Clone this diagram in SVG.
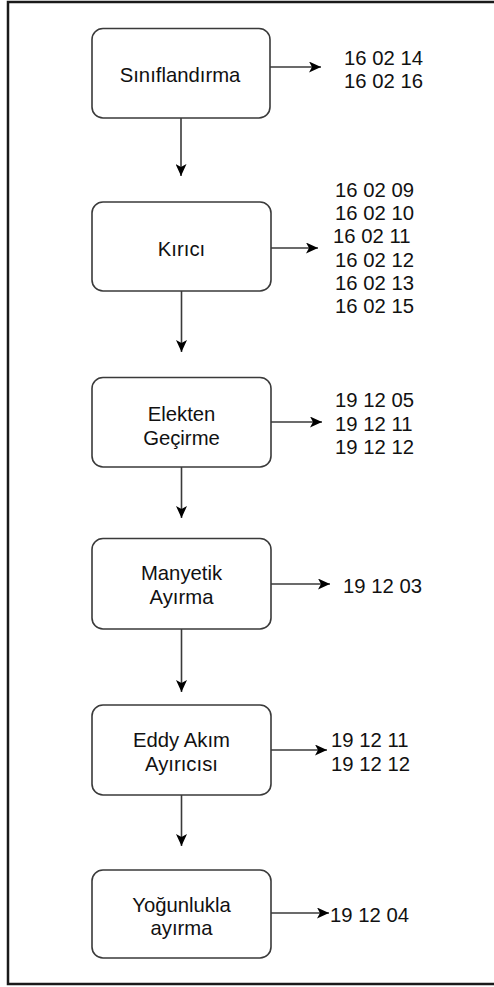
<svg xmlns="http://www.w3.org/2000/svg" width="494" height="987" viewBox="0 0 494 987">
<style>
.box{fill:#fff;stroke:#3a3a3a;stroke-width:1.6}
.t{font-family:"Liberation Sans",Arial,sans-serif;font-size:20.3px;fill:#111}
.c{text-anchor:middle}
.ln{stroke:#3a3a3a;stroke-width:1.6;fill:none}
</style>
<defs>
<marker id="ah" viewBox="0 0 12 11" refX="12" refY="5.5" markerWidth="12" markerHeight="11" markerUnits="userSpaceOnUse" orient="auto">
<path d="M0,0 L12,5.5 L0,11 L3,5.5 z" fill="#000"/>
</marker>
</defs>
<rect width="494" height="987" fill="#fff"/>
<path d="M496,2 H8 V984 H496" fill="none" stroke="#1a1a1a" stroke-width="2.5"/>
<g id="connectors">
<line class="ln" x1="181" y1="118" x2="181" y2="176" marker-end="url(#ah)"/>
<line class="ln" x1="181.5" y1="291" x2="181.5" y2="352" marker-end="url(#ah)"/>
<line class="ln" x1="181.5" y1="467" x2="181.5" y2="518" marker-end="url(#ah)"/>
<line class="ln" x1="181.5" y1="629" x2="181.5" y2="692" marker-end="url(#ah)"/>
<line class="ln" x1="181.5" y1="795" x2="181.5" y2="846" marker-end="url(#ah)"/>
<line class="ln" x1="270" y1="67" x2="321" y2="67" marker-end="url(#ah)"/>
<line class="ln" x1="271" y1="248" x2="318" y2="248" marker-end="url(#ah)"/>
<line class="ln" x1="271" y1="422" x2="322" y2="422" marker-end="url(#ah)"/>
<line class="ln" x1="271" y1="584" x2="330" y2="584" marker-end="url(#ah)"/>
<line class="ln" x1="271" y1="750" x2="327" y2="750" marker-end="url(#ah)"/>
<line class="ln" x1="271" y1="913" x2="329" y2="913" marker-end="url(#ah)"/>
</g>
<g id="n1">
<rect class="box" x="92" y="28.5" width="178" height="89.5" rx="11"/>
<text class="t c" x="180" y="82">Sınıflandırma</text>
</g>
<g id="o1">
<text class="t" x="344" y="65">16 02 14</text>
<text class="t" x="344" y="88">16 02 16</text>
</g>
<g id="n2">
<rect class="box" x="92" y="202" width="179" height="89" rx="11"/>
<text class="t c" x="181.5" y="256">Kırıcı</text>
</g>
<g id="o2">
<text class="t" x="335" y="197">16 02 09</text>
<text class="t" x="335" y="220">16 02 10</text>
<text class="t" x="333" y="243">16 02 11</text>
<text class="t" x="335" y="267">16 02 12</text>
<text class="t" x="335" y="290">16 02 13</text>
<text class="t" x="335" y="313">16 02 15</text>
</g>
<g id="n3">
<rect class="box" x="92" y="377.5" width="179" height="89.5" rx="11"/>
<text class="t c" x="181.5" y="421">Elekten</text>
<text class="t c" x="181.5" y="445">Geçirme</text>
</g>
<g id="o3">
<text class="t" x="335" y="407">19 12 05</text>
<text class="t" x="335" y="431">19 12 11</text>
<text class="t" x="335" y="454">19 12 12</text>
</g>
<g id="n4">
<rect class="box" x="92" y="538.5" width="179" height="90.5" rx="11"/>
<text class="t c" x="181.5" y="580">Manyetik</text>
<text class="t c" x="181.5" y="604">Ayırma</text>
</g>
<g id="o4">
<text class="t" x="343" y="593">19 12 03</text>
</g>
<g id="n5">
<rect class="box" x="92" y="705" width="179" height="90" rx="11"/>
<text class="t c" x="181.5" y="747">Eddy Akım</text>
<text class="t c" x="181.5" y="771">Ayırıcısı</text>
</g>
<g id="o5">
<text class="t" x="331" y="747">19 12 11</text>
<text class="t" x="331" y="771">19 12 12</text>
</g>
<g id="n6">
<rect class="box" x="92" y="870" width="179" height="88" rx="11"/>
<text class="t c" x="181.5" y="912">Yoğunlukla</text>
<text class="t c" x="181.5" y="935">ayırma</text>
</g>
<g id="o6">
<text class="t" x="330" y="922">19 12 04</text>
</g>
</svg>
